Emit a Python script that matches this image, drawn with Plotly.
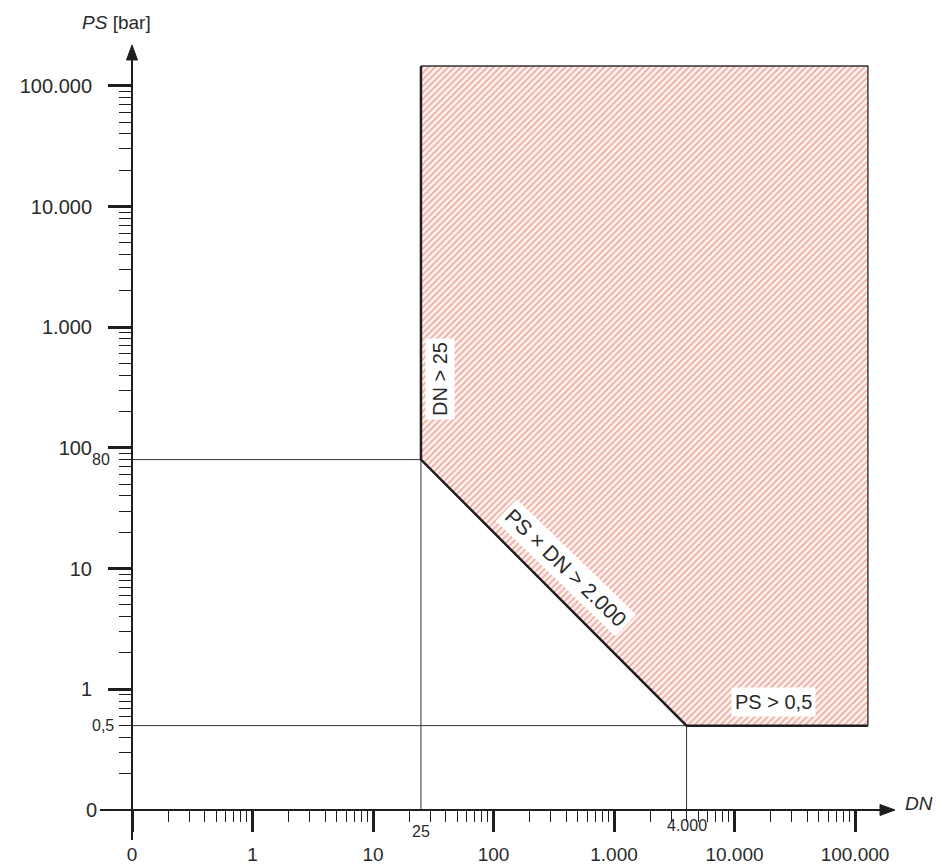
import math
import plotly.graph_objects as go

# ---------------- data ----------------
dn_limit = 25          # DN > 25
ps_at_dn_limit = 80    # PS at DN = 25 on the product line
ps_min = 0.5           # PS > 0,5
dn_at_ps_min = 4000    # DN at PS = 0,5 on the product line
ps_dn_product = 2000   # PS x DN > 2.000
dn_max = 1.28e5        # right edge of hatched area
ps_max = 1.46e5        # top edge of hatched area
axis_origin = 0.1      # value shown as "0" on both axes

region_dn = [dn_limit, dn_limit, dn_at_ps_min, dn_max, dn_max, dn_limit]
region_ps = [ps_max, ps_at_dn_limit, ps_min, ps_min, ps_max, ps_max]

major_vals = [0.1, 1, 10, 100, 1000, 10000, 100000]
x_major_text = ["0", "1", "10", "100", "1.000", "10.000", "100.000"]
y_major_vals = [1, 10, 100, 1000, 10000, 100000]
y_major_text = ["1", "10", "100", "1.000", "10.000", "100.000"]
minor_vals = [m * d for d in [0.1, 1, 10, 100, 1000, 10000] for m in range(2, 10)]

# ---------------- layout constants ----------------
W, H = 937, 865
# plot area in page pixels
L, R, T, B = 132, 895, 45, 810
PW, PH = R - L, B - T
DECX, DECY = 120.5, 120.7
xr = [-1, -1 + PW / DECX]
yr = [-1, -1 + PH / DECY]
FONT = "Liberation Sans, Arial, sans-serif"
TXT = "#2a2a2a"
INK = "#1e1e1e"


def px(xp):
    return (xp - L) / PW


def py(yp):
    return (B - yp) / PH


def lx(xp):
    return (xp - L) / DECX - 1


def ly(yp):
    return (B - yp) / DECY - 1


fig = go.Figure()

# hatched region
fig.add_trace(go.Scatter(
    x=region_dn, y=region_ps, mode="lines", fill="toself",
    line=dict(width=0, color="rgba(0,0,0,0)"),
    fillcolor="rgba(0,0,0,0)",
    fillpattern=dict(shape="/", fgcolor="#e2676d", bgcolor="#fdf5ec",
                     size=4.6, solidity=0.42),
    hoverinfo="skip", showlegend=False))

# thin reference lines
thin = dict(color="#333333", width=1)
fig.add_trace(go.Scatter(x=[axis_origin, dn_limit], y=[ps_at_dn_limit, ps_at_dn_limit],
                         mode="lines", line=thin, showlegend=False, hoverinfo="skip"))
fig.add_trace(go.Scatter(x=[dn_limit, dn_limit], y=[axis_origin, ps_at_dn_limit],
                         mode="lines", line=thin, showlegend=False, hoverinfo="skip"))
fig.add_trace(go.Scatter(x=[axis_origin, dn_at_ps_min], y=[ps_min, ps_min],
                         mode="lines", line=thin, showlegend=False, hoverinfo="skip"))
fig.add_trace(go.Scatter(x=[dn_at_ps_min, dn_at_ps_min], y=[axis_origin, ps_min],
                         mode="lines", line=thin, showlegend=False, hoverinfo="skip"))

# region borders
fig.add_trace(go.Scatter(x=[dn_max, dn_max, dn_limit], y=[ps_min, ps_max, ps_max],
                         mode="lines", line=dict(color="#333333", width=1.4),
                         showlegend=False, hoverinfo="skip"))
fig.add_trace(go.Scatter(x=region_dn[:4], y=region_ps[:4],
                         mode="lines", line=dict(color=INK, width=2.5),
                         showlegend=False, hoverinfo="skip"))

# axes (lines through origin with arrows)
fig.add_shape(type="line", xref="paper", yref="paper", x0=0, x1=0,
              y0=py(840), y1=py(T + 12), line=dict(color=INK, width=2))
fig.add_shape(type="line", xref="paper", yref="paper", y0=0, y1=0,
              x0=px(100), x1=px(R - 12), line=dict(color=INK, width=2))
ahx, awx = 15 / PW, 5.5 / PH
ahy, awy = 15 / PH, 5.5 / PW
fig.add_shape(type="path", xref="paper", yref="paper",
              path=f"M 0,1 L {-awy},{1-ahy} L {awy},{1-ahy} Z",
              fillcolor=INK, line=dict(color=INK, width=1))
fig.add_shape(type="path", xref="paper", yref="paper",
              path=f"M 1,0 L {1-ahx},{awx} L {1-ahx},{-awx} Z",
              fillcolor=INK, line=dict(color=INK, width=1))

ann = []
lab = dict(family=FONT, size=20, color=TXT)
# in-region labels
ann.append(dict(x=lx(440), y=ly(379), xref="x", yref="y",
                text="DN > 25", textangle=-90, showarrow=False, font=lab,
                bgcolor="white", borderpad=3))
ann.append(dict(x=lx(566), y=ly(567), xref="x", yref="y",
                text="PS × DN > 2.000", textangle=44, showarrow=False,
                font=dict(family=FONT, size=21, color=TXT),
                bgcolor="white", borderpad=3))
ann.append(dict(x=lx(773), y=ly(702), xref="x", yref="y",
                text="PS > 0,5", showarrow=False, font=lab,
                bgcolor="white", borderpad=3))
# special small tick labels
small = dict(family=FONT, size=16, color=TXT)
ann.append(dict(x=px(112), y=math.log10(ps_at_dn_limit), xref="paper", yref="y",
                text="80", xanchor="right", yanchor="middle", showarrow=False, font=small))
ann.append(dict(x=px(116), y=math.log10(ps_min), xref="paper", yref="y",
                text="0,5", xanchor="right", yanchor="middle", showarrow=False, font=small))
ann.append(dict(x=math.log10(dn_limit), y=py(832), xref="x", yref="paper",
                text="25", xanchor="center", yanchor="middle", showarrow=False, font=small))
ann.append(dict(x=math.log10(dn_at_ps_min), y=py(825), xref="x", yref="paper",
                text="4.000", xanchor="center", yanchor="middle", showarrow=False, font=small))
ann.append(dict(x=px(99), y=0, xref="paper", yref="paper",
                text="0", xanchor="right", yanchor="middle", showarrow=False,
                font=dict(family=FONT, size=20, color=TXT)))
# axis titles
ann.append(dict(x=px(80), y=py(22), xref="paper", yref="paper",
                text="<i>PS</i> [bar]", xanchor="left", yanchor="middle",
                showarrow=False, font=dict(family=FONT, size=19, color=TXT)))
ann.append(dict(x=px(919), y=py(803), xref="paper", yref="paper",
                text="<i>DN</i>", xanchor="center", yanchor="middle",
                showarrow=False, font=dict(family=FONT, size=19, color=TXT)))

fig.update_layout(
    width=W, height=H,
    margin=dict(l=L, r=W - R, t=T, b=H - B, pad=0, autoexpand=False),
    paper_bgcolor="white", plot_bgcolor="white",
    showlegend=False,
    annotations=ann,
    font=dict(family=FONT, color=TXT),
)
fig.update_xaxes(
    type="log", range=xr, showgrid=False, zeroline=False, showline=False,
    automargin=False,
    tickmode="array", tickvals=major_vals, ticktext=x_major_text,
    ticks="outside", ticklen=21, tickwidth=2.5, tickcolor=INK,
    tickfont=dict(family=FONT, size=19, color=TXT), ticklabelstandoff=6,
    minor=dict(tickvals=minor_vals, ticks="outside", ticklen=11, tickwidth=1.4,
               tickcolor=INK, showgrid=False),
    fixedrange=True,
)
fig.update_yaxes(
    type="log", range=yr, showgrid=False, zeroline=False, showline=False,
    automargin=False,
    tickmode="array", tickvals=y_major_vals, ticktext=y_major_text,
    ticks="outside", ticklen=23, tickwidth=2.5, tickcolor=INK,
    tickfont=dict(family=FONT, size=20, color=TXT), ticklabelstandoff=12,
    minor=dict(tickvals=minor_vals, ticks="outside", ticklen=12, tickwidth=1.4,
               tickcolor=INK, showgrid=False),
    fixedrange=True,
)

fig.write_html(
    "out.html",
    config={"displayModeBar": False, "staticPlot": False},
    post_script="document.body.style.margin='0px';document.body.style.overflow='hidden';",
)
